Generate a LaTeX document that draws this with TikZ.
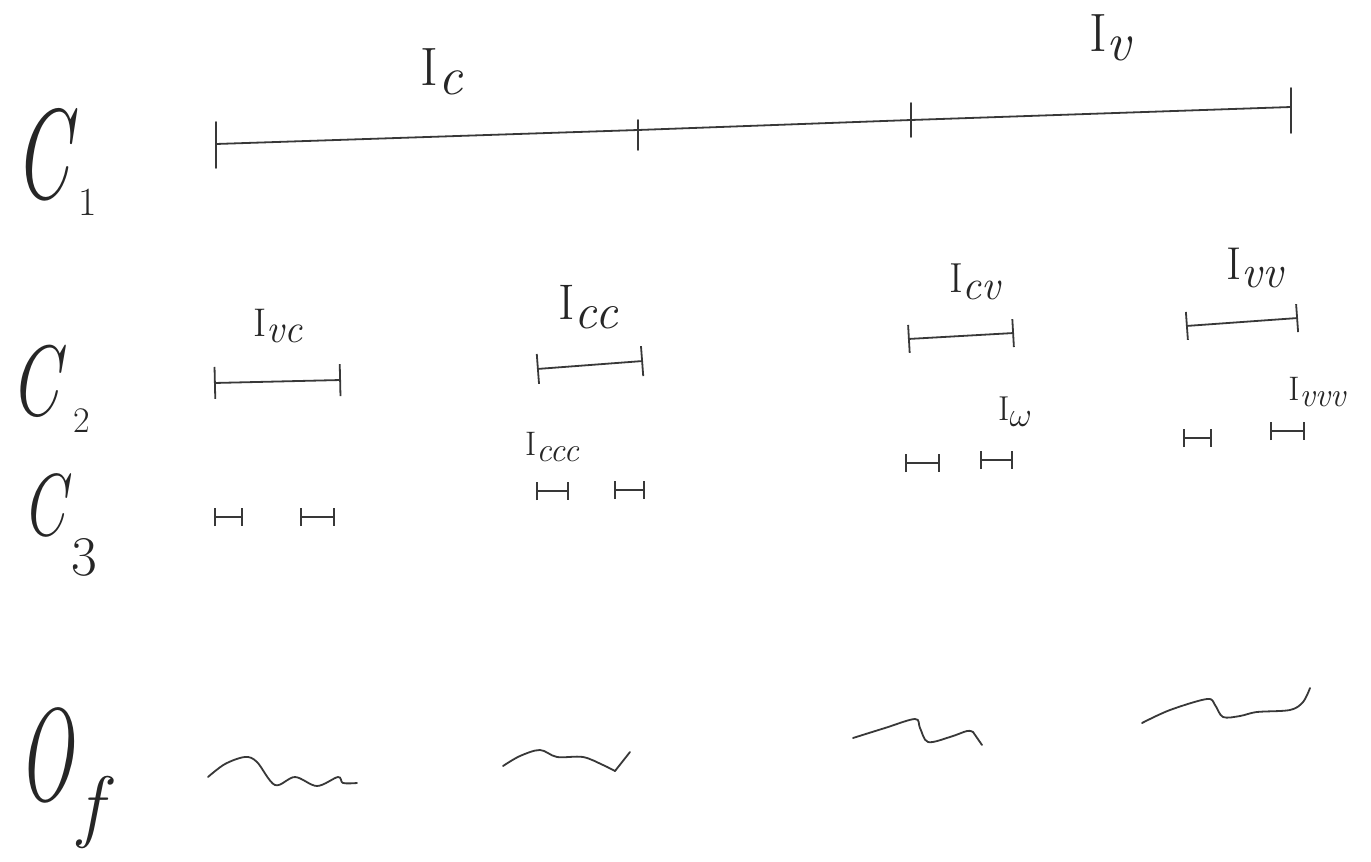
\documentclass[tikz,border=0pt]{standalone}
\usepackage{fontspec}
\usetikzlibrary{arrows.meta}
\newcommand{\lab}[2]{I\raisebox{-0.17em}{\itshape #1}}
\begin{document}
\begin{tikzpicture}[x=0.5pt,y=-0.5pt,
  pencil/.style={draw=black!78, line width=0.9pt, line cap=round, line join=round},
  lbl/.style={text=black!85, inner sep=0pt},
  bigbar/.style={{Bar[width=#1]}-{Bar[width=#1]}},
  smallbar/.style={pencil,{Bar[width=9pt]}-{Bar[width=9pt]}}]
\useasboundingbox[fill=white] (0,0) rectangle (1371,862);

% row labels
\node[lbl,font=\fontsize{64}{66}\selectfont\itshape] (lc1) at (42,155) {\scalebox{0.62}[1]{C}};
\node[lbl,font=\fontsize{20}{22}\selectfont] (lc1s) at (88,202) {1};
\node[lbl,font=\fontsize{50}{52}\selectfont\itshape] (lc2) at (35,381) {\scalebox{0.7}[1]{C}};
\node[lbl,font=\fontsize{18}{20}\selectfont] (lc2s) at (82,421) {2};
\node[lbl,font=\fontsize{44}{46}\selectfont\itshape] (lc3) at (44,505) {\scalebox{0.7}[1]{C}};
\node[lbl,font=\fontsize{28}{30}\selectfont] (lc3s) at (84,557) {3};
\node[lbl,font=\fontsize{66}{68}\selectfont\itshape] (lof) at (46,755) {\scalebox{0.55}[1]{O}};
\node[lbl,font=\fontsize{40}{42}\selectfont\itshape] (lofs) at (90,812) {f};

% C1 line
\coordinate (c1a) at (216,144);
\coordinate (c1b) at (638,130);
\coordinate (c1c) at (911,120);
\coordinate (c1d) at (1291,107);
\draw[pencil] (c1a) -- (c1b) -- (c1c) -- (c1d);
\draw[pencil] (216,122) -- (216,168);
\draw[pencil] (638,120) -- (638,150);
\draw[pencil] (911,103) -- (911,137);
\draw[pencil] (1291,88) -- (1291,133);
\node[lbl,font=\fontsize{27}{29}\selectfont] (ic) at (442,72) {\lab{c}{}};
\node[lbl,font=\fontsize{27}{29}\selectfont] (iv) at (1110,38) {\lab{v}{}};

% C2 intervals
\coordinate (vca) at (214,383); \coordinate (vcb) at (341,380);
\coordinate (cca) at (537,369); \coordinate (ccb) at (643,361);
\coordinate (cva) at (908,339); \coordinate (cvb) at (1014,333);
\coordinate (vva) at (1186,326); \coordinate (vvb) at (1298,318);
\draw[pencil,bigbar=16pt] (vca) -- (vcb);
\draw[pencil,bigbar=15pt] (cca) -- (ccb);
\draw[pencil,bigbar=14pt] (cva) -- (cvb);
\draw[pencil,bigbar=14pt] (vva) -- (vvb);
\node[lbl,font=\fontsize{20}{22}\selectfont] (ivc) at (278,326) {\lab{vc}{}};
\node[lbl,font=\fontsize{25}{27}\selectfont] (icc) at (588,307) {\lab{cc}{}};
\node[lbl,font=\fontsize{21}{23}\selectfont] (icv) at (975,282) {\lab{cv}{}};
\node[lbl,font=\fontsize{23}{25}\selectfont] (ivv) at (1255,268) {\lab{vv}{}};

% C3 intervals
\coordinate (s1a) at (214,517); \coordinate (s1b) at (243,517);
\coordinate (s2a) at (300,517); \coordinate (s2b) at (335,517);
\coordinate (s3a) at (536,491); \coordinate (s3b) at (569,491);
\coordinate (s4a) at (614,490); \coordinate (s4b) at (645,490);
\coordinate (s5a) at (905,463); \coordinate (s5b) at (940,463);
\coordinate (s6a) at (980,460); \coordinate (s6b) at (1013,460);
\coordinate (s7a) at (1183,438); \coordinate (s7b) at (1212,438);
\coordinate (s8a) at (1270,431); \coordinate (s8b) at (1305,431);
\foreach \i in {1,...,8} {\draw[smallbar] (s\i a) -- (s\i b);}
\node[lbl,font=\fontsize{17}{19}\selectfont] (iccc) at (552,447) {\lab{ccc}{}};
\node[lbl,font=\fontsize{17.28}{19}\selectfont] (iw) at (1015,412) {I\raisebox{-0.17em}{$\omega$}};
\node[lbl,font=\fontsize{17}{19}\selectfont] (ivvv) at (1317,392) {\lab{vvv}{}};

% squiggles
\draw[pencil] plot[smooth,tension=0.55] coordinates {(208,777) (225,764) (245,757) (257,762) (275,785) (295,777) (317,786) (338,777) (343,783) (357,783)};
\draw[pencil] plot[smooth,tension=0.55] coordinates {(503,766) (520,756) (540,750) (557,757) (583,757) (603,765) (615,771)};
\draw[pencil] (615,771) -- (630,752);
\draw[pencil] plot[smooth,tension=0.55] coordinates {(853,738) (885,728) (915,719) (920,728) (928,742) (950,737) (967,731) (973,732)};
\draw[pencil] (973,732) -- (982,745);
\draw[pencil] plot[smooth,tension=0.55] coordinates {(1142,723) (1170,710) (1207,699) (1215,705) (1223,717) (1240,716) (1257,712) (1290,710) (1303,702) (1310,688)};
\end{tikzpicture}
\end{document}
